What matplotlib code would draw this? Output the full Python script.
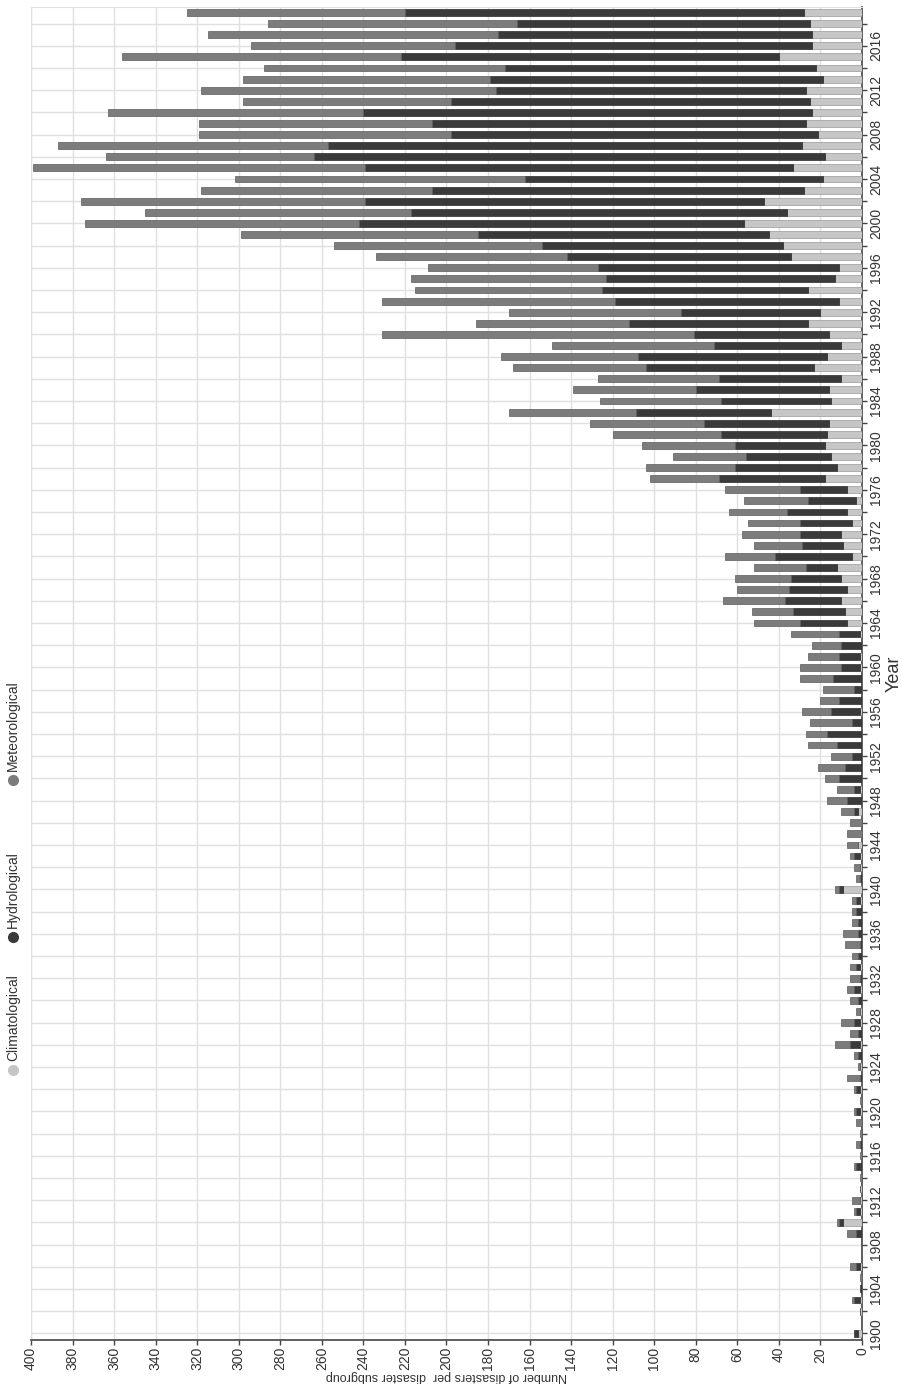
import numpy as np
import matplotlib
matplotlib.use("Agg")
import matplotlib.pyplot as plt
from matplotlib.lines import Line2D

plt.rcParams['font.family'] = ['Liberation Sans', 'DejaVu Sans']

years = list(range(1900, 2020))

climatological = [
    2, 0, 1, 1, 0, 0, 1, 0, 0, 0,            # 1900-1909
    9, 1, 1, 1, 0, 0, 0, 0, 0, 0,            # 1910-1919
    1, 0, 1, 0, 1, 0, 1, 0, 1, 1,            # 1920-1929
    0, 1, 0, 1, 0, 0, 0, 0, 0, 1,            # 1930-1939
    9, 0, 1, 1, 2, 0, 0, 2, 0, 1,            # 1940-1949
    0, 0, 0, 0, 0, 0, 1, 0, 0, 0,            # 1950-1959
    1, 1, 0, 1, 7, 8, 10, 7, 10, 12,         # 1960-1969
    5, 9, 10, 5, 7, 3, 7, 18, 12, 15,        # 1970-1979
    18, 17, 16, 44, 15, 16, 10, 23, 17, 10,  # 1980-1989
    16, 26, 20, 11, 26, 13, 11, 34, 38, 45,  # 1990-1999
    57, 36, 47, 28, 19, 33, 18, 29, 21, 27,  # 2000-2009
    24, 25, 27, 19, 22, 40, 24, 24, 25, 28,  # 2010-2019
]
hydrological = [
    2, 0, 0, 3, 1, 0, 2, 0, 0, 3,
    2, 2, 0, 0, 0, 3, 0, 1, 0, 0,
    2, 0, 2, 1, 0, 2, 5, 2, 3, 0,
    2, 3, 1, 2, 2, 1, 2, 2, 3, 2,
    2, 1, 0, 3, 0, 0, 0, 2, 7, 3,
    11, 8, 5, 12, 17, 5, 14, 11, 4, 14,
    9, 10, 10, 10, 23, 25, 27, 28, 24, 15,
    37, 20, 20, 25, 29, 23, 23, 51, 49, 41,
    43, 51, 60, 65, 53, 64, 59, 81, 91, 61,
    65, 86, 67, 108, 99, 110, 116, 108, 116, 140,
    185, 181, 192, 179, 143, 206, 246, 228, 177, 180,
    216, 173, 149, 160, 150, 182, 172, 151, 141, 192,
]
meteorological = [
    0, 0, 0, 1, 0, 1, 3, 0, 0, 4,
    1, 1, 4, 0, 1, 1, 1, 2, 1, 3,
    1, 1, 1, 6, 1, 2, 7, 4, 6, 2,
    4, 3, 5, 3, 3, 7, 7, 3, 2, 2,
    2, 2, 3, 2, 5, 7, 6, 6, 10, 8,
    7, 13, 10, 14, 10, 20, 14, 9, 15, 16,
    20, 15, 14, 23, 22, 20, 30, 25, 27, 25,
    24, 23, 28, 25, 28, 31, 36, 33, 43, 35,
    45, 52, 55, 61, 58, 59, 58, 64, 66, 78,
    150, 74, 83, 112, 90, 94, 82, 92, 100, 114,
    132, 128, 137, 111, 140, 160, 100, 130, 121, 112,
    123, 100, 142, 119, 116, 134, 98, 140, 120, 105,
]

groups = ['Climatological', 'Hydrological', 'Meteorological']
colors = ['#c6c6c6', '#3a3a3a', '#7c7c7c']
edges = ['#9a9a9a', '#2a2a2a', '#5c5c5c']

fig = plt.figure(figsize=(9.03, 13.85), dpi=100)
ax = fig.add_axes([0.0343, 0.0325, 0.9203, 0.9625])

y = np.array(years)
left = np.zeros(len(years))
for vals, c, e in zip([climatological, hydrological, meteorological], colors, edges):
    v = np.array(vals, dtype=float)
    ax.barh(y, v, left=left, height=0.62, color=c, edgecolor=e, linewidth=0.5, zorder=3)
    left += v

ax.set_xlim(400, 0)
ax.set_ylim(1899.4, 2019.5)

ax.set_xticks(np.arange(0, 401, 20))
ax.set_xticklabels([str(v) for v in range(0, 401, 20)], rotation=90, fontsize=10, color='#333333')

yt = list(range(1900, 2019, 2))
ax.yaxis.tick_right()
ax.set_yticks(yt)
ax.set_yticklabels([str(t) if t % 4 == 0 else '' for t in yt], rotation=90, va='center',
                   fontsize=10, color='#333333')
ax.yaxis.set_label_position('right')
ax.set_ylabel('Year', rotation=90, fontsize=13, color='#333333', labelpad=2)
ax.set_xlabel('Number of disasters per  disaster subgroup', rotation=180, fontsize=9,
              color='#333333', labelpad=0)

ax.grid(True, color='#e0e0e0', linewidth=1.0, zorder=0)
ax.tick_params(axis='both', direction='out', length=3.5, width=1, color='#444444', pad=1.5)

for side in ['top', 'left']:
    ax.spines[side].set_color('#e0e0e0')
for side in ['bottom', 'right']:
    ax.spines[side].set_color('#444444')
    ax.spines[side].set_linewidth(1.2)

# legend down the left edge, rotated like the rest of the chart
leg_y = [0.2274, 0.3235, 0.4368]
for name, c, yy in zip(groups, colors, leg_y):
    fig.add_artist(Line2D([0.0144], [yy], marker='o', markersize=7, color=c,
                          markeredgecolor=c, transform=fig.transFigure))
    fig.text(0.0144, yy + 0.0065, name, rotation=90, rotation_mode='anchor',
             ha='left', va='center', fontsize=10, color='#333333')

fig.savefig('out.png', dpi=100)
